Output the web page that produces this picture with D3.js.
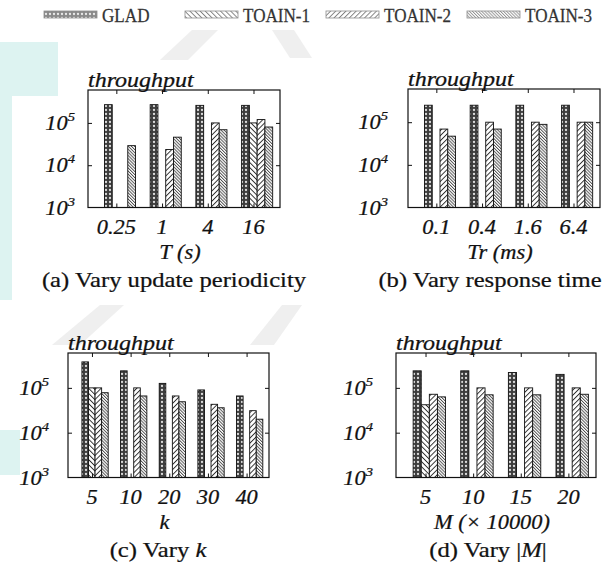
<!DOCTYPE html>
<html>
<head>
<meta charset="utf-8">
<script src="https://cdn.jsdelivr.net/npm/d3@7"></script>
<style>
  html, body { margin: 0; padding: 0; background: #fff; }
  svg { display: block; }
</style>
</head>
<body>
<svg width="613" height="574"></svg>
<script>
// series shown in every panel
const seriesNames = ["GLAD", "TOAIN-1", "TOAIN-2", "TOAIN-3"];
const yTickValues = [1e3, 1e4, 1e5];

// (a) vary update periodicity, T (s)
const periodLabels = ["0.25", "1", "4", "16"];
const periodGLAD = [2.7e5, 2.7e5, 2.6e5, 2.6e5];
const periodTOAIN1 = [null, null, null, 1.0e5];
const periodTOAIN2 = [null, 2.35e4, 1.0e5, 1.2e5];
const periodTOAIN3 = [2.9e4, 4.6e4, 6.9e4, 8.0e4];

// (b) vary response time, Tr (ms)
const responseLabels = ["0.1", "0.4", "1.6", "6.4"];
const responseGLAD = [2.5e5, 2.5e5, 2.5e5, 2.5e5];
const responseTOAIN1 = [null, null, null, null];
const responseTOAIN2 = [6.9e4, 1.0e5, 1.0e5, 1.0e5];
const responseTOAIN3 = [4.7e4, 6.9e4, 8.9e4, 1.0e5];

// (c) vary k
const kLabels = ["5", "10", "20", "30", "40"];
const kGLAD = [3.8e5, 2.4e5, 1.26e5, 9.0e4, 6.6e4];
const kTOAIN1 = [1.0e5, null, null, null, null];
const kTOAIN2 = [1.0e5, 1.0e5, 6.6e4, 4.3e4, 3.1e4];
const kTOAIN3 = [7.8e4, 6.6e4, 4.9e4, 3.6e4, 2.0e4];

// (d) vary |M|, M (x 10000)
const mLabels = ["5", "10", "15", "20"];
const mGLAD = [2.4e5, 2.4e5, 2.2e5, 2.0e5];
const mTOAIN1 = [4.2e4, null, null, null];
const mTOAIN2 = [7.2e4, 1.0e5, 1.0e5, 1.0e5];
const mTOAIN3 = [6.3e4, 7.0e4, 7.0e4, 7.2e4];

const FONT = "'Liberation Serif', Tinos, 'Times New Roman', serif";

const svg = d3.select("svg");
const defs = svg.append("defs");

// fill patterns, one per series
function linePattern(id, size, angle, width, color) {
    const p = defs.append("pattern")
        .attr("id", id)
        .attr("patternUnits", "userSpaceOnUse")
        .attr("width", size).attr("height", size)
        .attr("patternTransform", `rotate(${angle})`);
    p.append("rect").attr("width", size).attr("height", size).attr("fill", "#fff");
    p.append("line").attr("x1", 0.5).attr("y1", 0).attr("x2", 0.5).attr("y2", size)
        .attr("stroke", color).attr("stroke-width", width);
}
const glad = defs.append("pattern")
    .attr("id", "p0").attr("patternUnits", "userSpaceOnUse")
    .attr("width", 4).attr("height", 4);
glad.append("rect").attr("width", 4).attr("height", 4).attr("fill", "#3c3c3c");
glad.append("circle").attr("cx", 2).attr("cy", 2).attr("r", 1.15).attr("fill", "#dcdcdc");
linePattern("p1", 3.6, -45, 0.9, "#222");
linePattern("p2", 3.6, 45, 0.9, "#222");
linePattern("p3", 2.2, -45, 0.8, "#333");

// faint watermark behind the figure
const decor = [
    [[0, 42], [58, 42], [58, 96], [0, 96]],
    [[0, 96], [12, 96], [12, 300], [0, 300]],
    [[0, 430], [20, 430], [20, 475], [0, 475]]
];
svg.selectAll(".decor").data(decor).enter().append("polygon")
    .attr("class", "decor")
    .attr("points", d => d.map(p => p.join(",")).join(" "))
    .attr("fill", "#ddf3f1");
const decorGray = [
    [[192, 30], [218, 30], [188, 60], [160, 60]],
    [[272, 30], [294, 30], [312, 58], [290, 58]],
    [[100, 305], [124, 305], [80, 345], [52, 345]],
    [[282, 305], [302, 305], [274, 345], [250, 345]]
];
svg.selectAll(".decorg").data(decorGray).enter().append("polygon")
    .attr("class", "decorg")
    .attr("points", d => d.map(p => p.join(",")).join(" "))
    .attr("fill", "#efefef");

// horizontally stretched text, like the scanned figure
const SX = 1.12;
const FS = "20px";
function addText(parent, x, y, sx, anchor) {
    return parent.append("text")
        .attr("transform", `translate(${x},${y}) scale(${sx},1)`)
        .attr("text-anchor", anchor)
        .attr("font-family", FONT)
        .attr("fill", "#111")
        .attr("stroke", "#111")
        .attr("stroke-width", 0.25);
}

// legend
const legend = svg.append("g");
seriesNames.forEach((name, j) => {
    const lx = 44 + j * 141;
    legend.append("rect")
        .attr("x", lx).attr("y", 11).attr("width", 53).attr("height", 7)
        .attr("fill", `url(#p${j})`).attr("opacity", 0.6)
        .attr("stroke", "#444").attr("stroke-width", 0.8);
    addText(legend, lx + 58, 22, 0.95, "start")
        .attr("font-size", 18).attr("fill", "#333").attr("stroke", "#333").text(name);
});

const panels = [
    { labels: periodLabels, values: [periodGLAD, periodTOAIN1, periodTOAIN2, periodTOAIN3],
      box: [88, 280, 90, 207.5], yLab: 13, title: "T (s)",
      caption: [{ t: "(a) Vary update periodicity" }], capX: 174 },
    { labels: responseLabels, values: [responseGLAD, responseTOAIN1, responseTOAIN2, responseTOAIN3],
      box: [408, 600, 89, 207.5], yLab: 20, title: "Tr (ms)",
      caption: [{ t: "(b) Vary response time" }], capX: 490 },
    { labels: kLabels, values: [kGLAD, kTOAIN1, kTOAIN2, kTOAIN3],
      box: [68, 269, 353, 477.5], yLab: 19, title: "k",
      caption: [{ t: "(c) Vary " }, { t: "k", it: true }], capX: 158 },
    { labels: mLabels, values: [mGLAD, mTOAIN1, mTOAIN2, mTOAIN3],
      box: [396, 596, 353, 477.5], yLab: 23, title: "M (\u00d7 10000)",
      caption: [{ t: "(d) Vary |" }, { t: "M", it: true }, { t: "|" }], capX: 488 }
];

panels.forEach(p => {
    const [x0, x1, y0, y1] = p.box;
    const n = p.labels.length;
    const g = svg.append("g");

    const x = d3.scaleLinear().domain([-0.62, n - 1 + 0.58]).range([x0, x1]);
    const y = d3.scaleLog().domain([1e3, 6e5]).range([y1, y0]);
    const bw = 0.17;

    // bars
    p.values.forEach((vals, j) => {
        const rows = vals.map((v, i) => ({ v, i })).filter(d => d.v != null);
        g.selectAll(null).data(rows).enter().append("rect")
            .attr("x", d => x(d.i - 0.26 + bw * j))
            .attr("width", d => x(d.i - 0.26 + bw * (j + 1)) - x(d.i - 0.26 + bw * j))
            .attr("y", d => y(d.v))
            .attr("height", d => y1 - y(d.v))
            .attr("fill", `url(#p${j})`)
            .attr("stroke", "#111")
            .attr("stroke-width", 0.9);
    });

    // inward ticks on all four sides
    const ticks = [
        [d3.axisLeft(y).tickValues([1e4, 1e5]), `translate(${x0},0)`],
        [d3.axisRight(y).tickValues([1e4, 1e5]), `translate(${x1},0)`],
        [d3.axisBottom(x).tickValues(d3.range(n)), `translate(0,${y1})`],
        [d3.axisTop(x).tickValues(d3.range(n)), `translate(0,${y0})`]
    ];
    ticks.forEach(([ax, tr]) => {
        const a = g.append("g").attr("transform", tr).attr("color", "#111")
            .call(ax.tickSizeInner(-4).tickSizeOuter(0).tickFormat(""));
        a.select(".domain").remove();
    });

    g.append("rect")
        .attr("x", x0).attr("y", y0).attr("width", x1 - x0).attr("height", y1 - y0)
        .attr("fill", "none").attr("stroke", "#111").attr("stroke-width", 1.2);

    // y tick labels 10^n
    yTickValues.forEach(t => {
        const tx = addText(g, x0 - p.yLab, y(t) + 7, SX, "end")
            .attr("font-size", FS).attr("font-style", "italic");
        tx.append("tspan").text("10");
        tx.append("tspan").attr("dy", -9).attr("font-size", 13)
            .text(Math.round(Math.log10(t)));
    });

    // x tick labels
    p.labels.forEach((lab, i) => {
        addText(g, x(i), y1 + 26, SX, "middle")
            .attr("font-size", FS).attr("font-style", "italic").text(lab);
    });

    addText(g, x0, y0 - 3, SX + 0.08, "start")
        .attr("font-size", FS).attr("font-style", "italic").text("throughput");

    addText(g, (x0 + x1) / 2 - 4, y1 + 51, SX, "middle")
        .attr("font-size", FS).attr("font-style", "italic").text(p.title);

    const cap = addText(g, p.capX, y1 + 79, 1.12, "middle").attr("font-size", 22);
    p.caption.forEach(s => {
        cap.append("tspan").attr("font-style", s.it ? "italic" : "normal").text(s.t);
    });
});
</script>
</body>
</html>
